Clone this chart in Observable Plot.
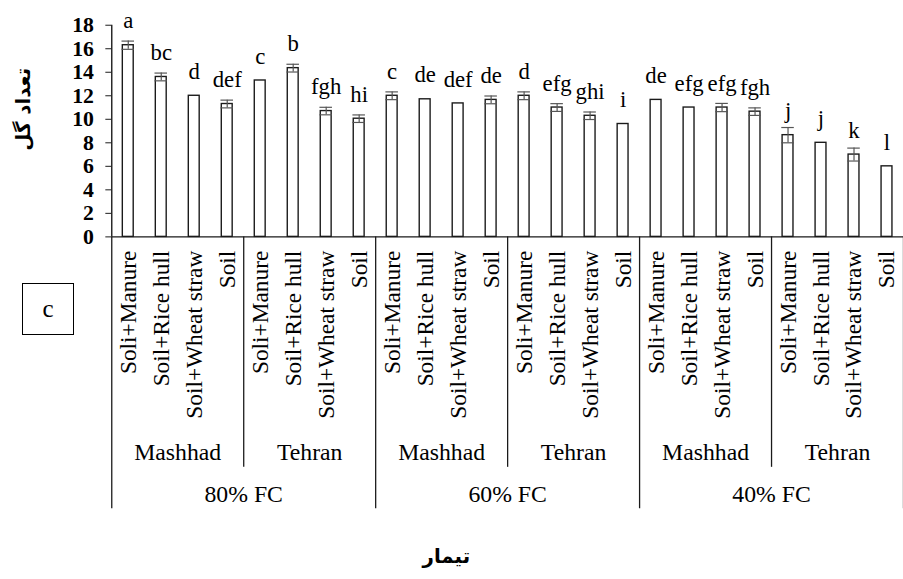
<!DOCTYPE html>
<html>
<head>
<meta charset="utf-8">
<script src="https://cdn.jsdelivr.net/npm/d3@7"></script>
<script src="https://cdn.jsdelivr.net/npm/@observablehq/plot@0.6"></script>
<style>
  html, body { margin: 0; padding: 0; background: #fff; overflow: hidden; width: 903px; height: 579px; }
  #chart { position: relative; width: 903px; height: 579px; overflow: hidden; }
  #chart svg { position: absolute; left: 0; top: 0; }
  .panel { position: absolute; left: 22px; top: 283px; width: 50px; height: 50px; border: 1.5px solid #000;
           font-family: 'Liberation Serif'; font-size: 25px; color: #000;
           display: flex; align-items: center; justify-content: center; background: #fff; box-sizing: content-box; }
</style>
</head>
<body>
<div id="chart"><div class="panel">c</div></div>
<script>
// ---- data ----
const fcLevels = ["80% FC", "60% FC", "40% FC"];
const sites = ["Mashhad", "Tehran"];
const treatments = ["Soli+Manure", "Soil+Rice hull", "Soil+Wheat straw", "Soil"];
const values = [16.3, 13.6, 12.0, 11.3, 13.3, 14.35, 10.7, 10.05,
                12.0, 11.7, 11.35, 11.65, 12.0, 11.0, 10.3, 9.6,
                11.65, 11.0, 11.0, 10.65, 8.65, 8.0, 7.0, 6.0];
const errors = [0.35, 0.33, 0, 0.33, 0, 0.33, 0.32, 0.32,
                0.33, 0, 0, 0.33, 0.33, 0.33, 0.32, 0,
                0, 0, 0.35, 0.32, 0.65, 0, 0.55, 0];
const letters = ["a", "bc", "d", "def", "c", "b", "fgh", "hi",
                 "c", "de", "def", "de", "d", "efg", "ghi", "i",
                 "de", "efg", "efg", "fgh", "j", "j", "k", "l"];
const yTicks = [0, 2, 4, 6, 8, 10, 12, 14, 16, 18];
const yTitle = "تعداد گل";
const xTitle = "تیمار";

// ---- build table ----
const rows = [];
fcLevels.forEach((fc, fi) => sites.forEach((site, si) => treatments.forEach((treat, ti) => {
  const i = rows.length;
  rows.push({i, fc, site, treat, value: values[i], err: errors[i], letter: letters[i]});
})));
const nPer = treatments.length, nSite = sites.length * nPer;
const siteRows = [];
fcLevels.forEach((fc, fi) => sites.forEach((s, si) => siteRows.push({label: s, x: fi * nSite + si * nPer + (nPer - 1) / 2})));
const fcRows = fcLevels.map((fc, fi) => ({label: fc, x: fi * nSite + (nSite - 1) / 2}));
const siteBounds = fcLevels.map((fc, fi) => fi * nSite + nPer - 0.5);
const fcBounds = d3.range(fcLevels.length + 1).map(k => k * nSite - 0.5);
const eb = rows.filter(d => d.err > 0);

const serif = "Liberation Serif";
const persian = "DejaVu Sans";
const barHalf = 0.165, capHalf = 0.19;

const chart = Plot.plot({
  width: 913, height: 579,
  marginLeft: 112.5, marginRight: 0, marginTop: 25, marginBottom: 340,
  x: {type: "linear", domain: [-0.5, rows.length - 0.5], axis: null},
  y: {domain: [0, 18], axis: null},
  style: {background: "transparent", color: "#000", overflow: "visible"},
  marks: [
    Plot.rectY(rows, {x1: d => d.i - barHalf, x2: d => d.i + barHalf, y1: 0, y2: "value",
                      fill: "#fff", stroke: "#1a1a1a", strokeWidth: 1.4}),
    Plot.ruleX(eb, {x: "i", y1: d => d.value - d.err, y2: d => d.value + d.err, stroke: "#555", strokeWidth: 1.2}),
    Plot.ruleY(eb, {y: d => d.value + d.err, x1: d => d.i - capHalf, x2: d => d.i + capHalf, stroke: "#555", strokeWidth: 1.2}),
    Plot.ruleY(eb, {y: d => d.value - d.err, x1: d => d.i - capHalf, x2: d => d.i + capHalf, stroke: "#555", strokeWidth: 1.2}),
    Plot.text(rows, {x: "i", y: "value", text: "letter", dy: -17, lineAnchor: "bottom", fontSize: 23, fontFamily: serif}),
    // axes
    Plot.ruleX([-0.5], {stroke: "#1a1a1a", strokeWidth: 1.4}),
    Plot.ruleY([0], {stroke: "#1a1a1a", strokeWidth: 1.4}),
    Plot.axisY(yTicks, {tickSize: 6, tickPadding: 12, fontSize: 22, fontWeight: "bold", fontFamily: serif, label: null, stroke: "#1a1a1a"}),
    // hierarchical category axis
    Plot.text(rows, {x: "i", text: "treat", rotate: -90, textAnchor: "end", lineAnchor: "middle",
                     frameAnchor: "bottom", dy: 14, fontSize: 23.6, fontFamily: serif}),
    Plot.ruleX(siteBounds, {x: d => d, y1: 0, y2: 0, insetBottom: -233, stroke: "#1a1a1a", strokeWidth: 1.3}),
    Plot.ruleX(fcBounds, {x: d => d, y1: 0, y2: 0, insetBottom: -275, stroke: "#1a1a1a", strokeWidth: 1.3}),
    Plot.text(siteRows, {x: "x", text: "label", frameAnchor: "bottom", dy: 226, lineAnchor: "bottom", fontSize: 24, fontFamily: serif}),
    Plot.text(fcRows, {x: "x", text: "label", frameAnchor: "bottom", dy: 268, lineAnchor: "bottom", fontSize: 24, fontFamily: serif}),
    // titles
    Plot.text([yTitle], {text: d => d, frameAnchor: "left", rotate: -90, textAnchor: "middle", dx: -89.5, dy: -22,
                         lineAnchor: "middle", fontWeight: "bold", fontSize: 20, fontFamily: persian}),
    Plot.text([xTitle], {text: d => d, frameAnchor: "bottom", textAnchor: "middle", dx: -62, dy: 323,
                         lineAnchor: "middle", fontWeight: "bold", fontSize: 20, fontFamily: persian})
  ]
});
document.getElementById("chart").prepend(chart);
</script>
</body>
</html>
